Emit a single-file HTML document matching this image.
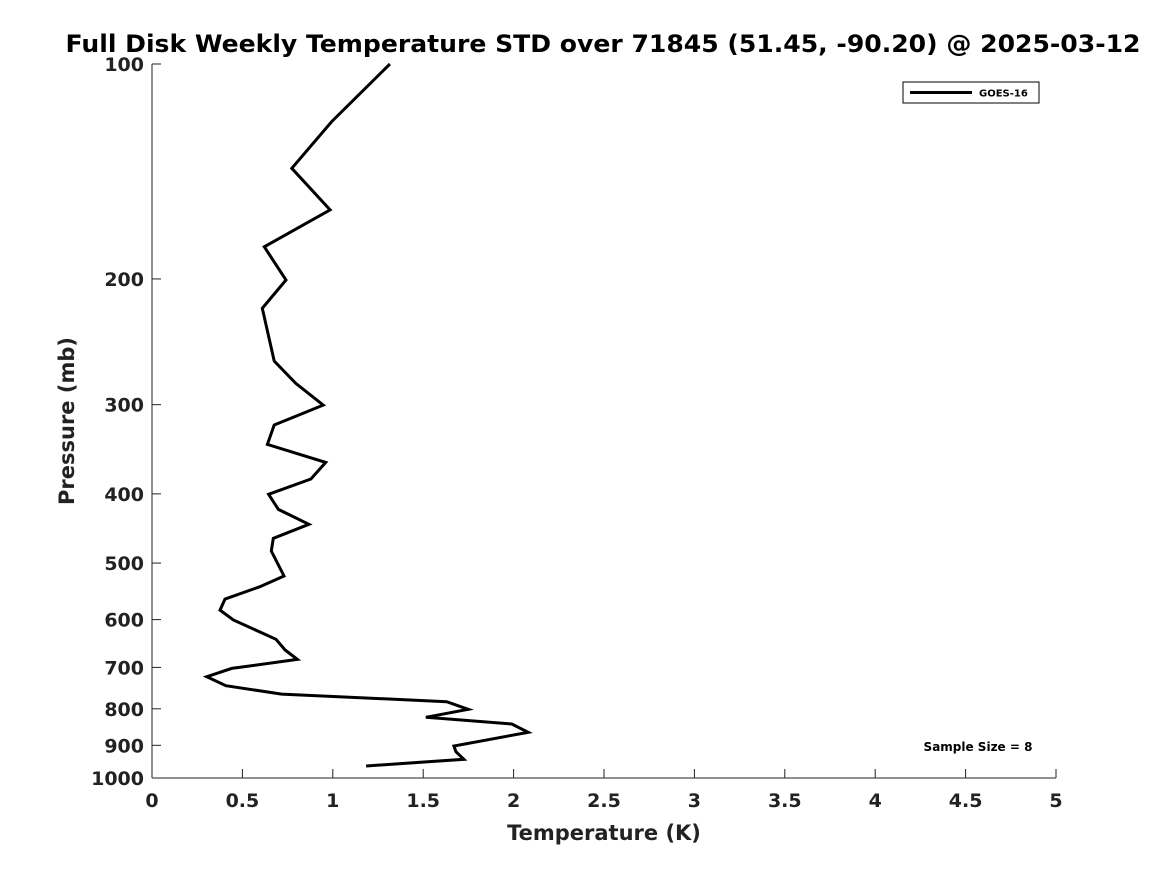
<!DOCTYPE html>
<html><head><meta charset="utf-8"><style>
html,body{margin:0;padding:0;background:#fff;}
svg{display:block;font-family:"DejaVu Sans","Liberation Sans",sans-serif;font-weight:bold;}
</style></head><body>
<svg id="chart" width="1167" height="875" viewBox="0 0 1167 875">
<text x="603" y="52" text-anchor="middle" font-size="24" textLength="1075" lengthAdjust="spacingAndGlyphs" fill="#000">Full Disk Weekly Temperature STD over 71845 (51.45, -90.20) @ 2025-03-12</text>
<g id="axes"></g>
<g id="series"></g>
<text x="604" y="840" text-anchor="middle" font-size="21" fill="#222">Temperature (K)</text>
<text transform="translate(74,421) rotate(-90)" text-anchor="middle" font-size="21" fill="#222">Pressure (mb)</text>
<g>
<rect x="903" y="82" width="136" height="21" fill="#fff" stroke="#000" stroke-width="1"/>
<line x1="910" y1="92.5" x2="972" y2="92.5" stroke="#000" stroke-width="3"/>
<text x="979" y="96.5" font-size="10" fill="#000">GOES-16</text>
</g>
<text x="978" y="751" text-anchor="middle" font-size="12" fill="#000">Sample Size = 8</text>
</svg>
<script>
const temps = [1.316,0.994,0.773,0.985,0.621,0.741,0.610,0.676,0.795,0.947,0.676,0.638,0.961,0.879,0.645,0.699,0.868,0.671,0.660,0.730,0.597,0.404,0.376,0.450,0.686,0.736,0.804,0.441,0.303,0.409,0.717,1.630,1.749,1.515,1.990,2.081,1.670,1.681,1.725,1.184];
const pressures = [100,120.4,140,160.1,180.3,200.7,219.9,260.6,280,300.4,320.3,341,361.4,381.3,400.6,420.5,441.3,461.6,480.9,521.3,539.6,561.6,581.9,600.8,639.4,661.9,682.2,702.3,721.4,742.6,763,781.9,801.4,822.2,840.2,863,902,918.8,941.5,962.1];
const xTicks = [0,0.5,1,1.5,2,2.5,3,3.5,4,4.5,5];
const xTickLabels = ["0","0.5","1","1.5","2","2.5","3","3.5","4","4.5","5"];
const yTicks = [100,200,300,400,500,600,700,800,900,1000];
const yTickLabels = ["100","200","300","400","500","600","700","800","900","1000"];

const X0=152,X1=1056,Y0=64,Y1=778;
const xs=v=>X0+(v-0)/(5-0)*(X1-X0);
const ys=p=>Y0+(Math.log10(p)-2)*(Y1-Y0);
const NS="http://www.w3.org/2000/svg";
const axes=document.getElementById('axes');
function mk(tag,attrs,parent){const e=document.createElementNS(NS,tag);for(const k in attrs)e.setAttribute(k,attrs[k]);parent.appendChild(e);return e;}
const yl=mk('line',{x1:X0,y1:Y0,x2:X0,y2:Y1,stroke:'#222','stroke-width':1},axes);


const xl=mk('line',{x1:X0,y1:Y1,x2:X1,y2:Y1,stroke:'#222','stroke-width':1},axes);


xTicks.forEach((v,i)=>{
  const x=xs(v);
  const t=mk('line',{x1:x,y1:Y1,x2:x,y2:Y1-9,stroke:'#222','stroke-width':1},axes);
  
  
  const l=mk('text',{x:x,y:Y1+29,'text-anchor':'middle','font-size':19,fill:'#222'},axes);
  l.textContent=xTickLabels[i];
  
  
});
yTicks.forEach((p,i)=>{
  const y=ys(p);
  const t=mk('line',{x1:X0,y1:y,x2:X0+9,y2:y,stroke:'#222','stroke-width':1},axes);
  
  
  const l=mk('text',{x:X0-8,y:y+7,'text-anchor':'end','font-size':19,fill:'#222'},axes);
  l.textContent=yTickLabels[i];
  
  
});
const pts=temps.map((t,i)=>xs(t).toFixed(1)+','+ys(pressures[i]).toFixed(1)).join(' ');
const pl=mk('polyline',{points:pts,fill:'none',stroke:'#000','stroke-width':3,'stroke-linejoin':'miter'},document.getElementById('series'));


</script>
</body></html>
